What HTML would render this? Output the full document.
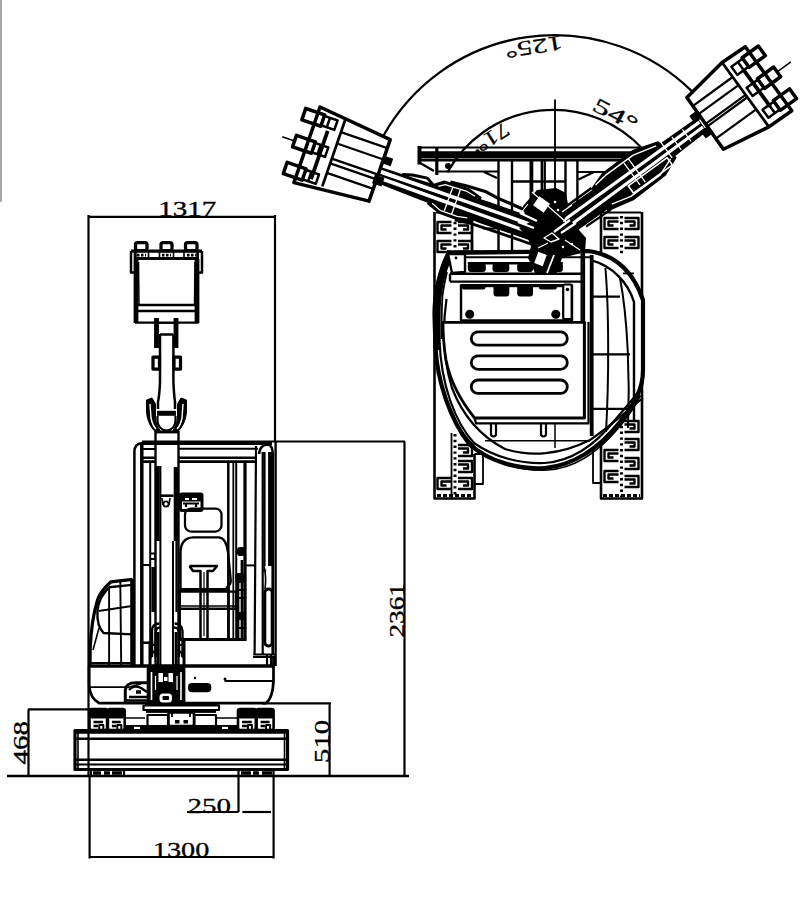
<!DOCTYPE html>
<html><head><meta charset="utf-8">
<style>
html,body{margin:0;padding:0;background:#fff;width:808px;height:898px;overflow:hidden;}
svg{display:block;}
text{font-family:"Liberation Serif",serif;fill:#000;}
</style></head>
<body>
<svg width="808" height="898" viewBox="0 0 808 898">
<rect x="0" y="0" width="808" height="898" fill="#fff"/>
<rect x="-1" y="-2" width="3" height="204" rx="1" fill="#a8a8a8"/>
<g id="dims" stroke="#000" stroke-width="2.2" fill="none">
  <line x1="88" y1="216.8" x2="274.5" y2="216.8"/>
  <line x1="88.5" y1="215" x2="88.5" y2="776"/>
  <line x1="275" y1="215" x2="275" y2="442"/>
  <line x1="272" y1="441.5" x2="405" y2="441.5"/>
  <line x1="404.5" y1="441.5" x2="404.5" y2="776"/>
  <line x1="7" y1="776" x2="409" y2="776" stroke-width="2.4"/>
  <line x1="28" y1="709.4" x2="90" y2="709.4"/>
  <line x1="28.5" y1="709.4" x2="28.5" y2="776"/>
  <line x1="262" y1="703.3" x2="331" y2="703.3"/>
  <line x1="329.6" y1="703.3" x2="329.6" y2="776"/>
  <line x1="89.6" y1="776" x2="89.6" y2="858.5"/>
  <line x1="273.6" y1="776" x2="273.6" y2="858.5"/>
  <line x1="89.6" y1="857" x2="273.6" y2="857"/>
  <line x1="238.5" y1="776" x2="238.5" y2="812"/>
  <line x1="187" y1="812" x2="238.5" y2="812"/>
  <line x1="242.4" y1="812" x2="271" y2="812"/>
</g>
<g id="texts" stroke="#000" stroke-width="0.3">
  <text x="158.2" y="216.3" font-size="20.5" textLength="58" lengthAdjust="spacingAndGlyphs">1317</text>
  <text x="152.8" y="857.2" font-size="20.5" textLength="56.5" lengthAdjust="spacingAndGlyphs">1300</text>
  <text x="187.6" y="812.6" font-size="20.5" textLength="43.4" lengthAdjust="spacingAndGlyphs">250</text>
  <text transform="translate(27.6,764.5) rotate(-90)" font-size="20.5" textLength="43.5" lengthAdjust="spacingAndGlyphs">468</text>
  <text transform="translate(328.6,763) rotate(-90)" font-size="20.5" textLength="43.3" lengthAdjust="spacingAndGlyphs">510</text>
  <text transform="translate(404,637.5) rotate(-90)" font-size="20.5" textLength="54.5" lengthAdjust="spacingAndGlyphs">2361</text>
</g>
<g id="front" stroke="#000" fill="none" stroke-width="2.00" stroke-linejoin="round">
  <!-- bucket teeth -->
  <rect x="135.5" y="242.5" width="11.5" height="8" rx="2" stroke-width="3.25"/>
  <rect x="161" y="242.5" width="11" height="8" rx="2" stroke-width="3.25"/>
  <rect x="185.5" y="242.5" width="11.5" height="8" rx="2" stroke-width="3.25"/>
  <!-- top bar -->
  <path d="M131,251 H202" stroke-width="3.25"/>
  <path d="M136,258.5 H197" stroke-width="3.00"/>
  <rect x="134.5" y="251" width="14" height="7.5" stroke-width="1.62"/>
  <rect x="159.5" y="251" width="14" height="7.5" stroke-width="1.62"/>
  <rect x="184" y="251" width="14" height="7.5" stroke-width="1.62"/>
  <path d="M137,255 h9 M162,255 h9 M187,255 h9" stroke-width="2.75" stroke-dasharray="2.5,1.5"/>
  <!-- side ears -->
  <path d="M131,251 V272.5 H135.5 V251" stroke-width="2.50"/>
  <path d="M202,251 V272.5 H197.5 V251" stroke-width="2.50"/>
  <!-- bucket body -->
  <path d="M136,259 V323" stroke-width="4.8"/>
  <path d="M197,259 V323" stroke-width="4.8"/>
  <path d="M138.5,262 L139,304" stroke-width="1.50"/>
  <path d="M195,262 L194.5,304" stroke-width="1.50"/>
  <path d="M137,305 H196" stroke-width="2.50"/>
  <path d="M137,311 H196" stroke-width="2.50"/>
  <path d="M135,322.5 H198.5" stroke-width="2.25"/>
  <!-- arm -->
  <path d="M156.5,318 V348" stroke-width="4.86"/>
  <path d="M176,318 V348" stroke-width="4.86"/>
  <path d="M159,323 H174" stroke-width="1.75"/>
  <path d="M160,334.5 H173" stroke-width="2.50"/>
  <path d="M160,334 V382 Q159.5,395 158,402 V409" stroke-width="2.50"/>
  <path d="M173.4,334 V382 Q174,395 175,402 V409" stroke-width="2.50"/>
  <rect x="153" y="357" width="6.5" height="12" stroke-width="3.25"/>
  <rect x="174" y="357" width="6.5" height="12" stroke-width="3.25"/>
  <!-- fork -->
  <path d="M146.5,400 L152,398 L155.5,404 L155.5,417 C156,424 158,428 161,431.5 L155,431.5 C149.5,426 146.5,418 146.5,410 Z" fill="#000" stroke-width="1"/>
  <path d="M186.5,400 L181,398 L177.5,404 L177.5,417 C177,424 175,428 172,431.5 L178,431.5 C183.5,426 186.5,418 186.5,410 Z" fill="#000" stroke-width="1"/>
  <path d="M150,404 L151,418 C152,423 154,427 156,429 M183,404 L182,418 C181,423 179,427 177,429" stroke="#fff" stroke-width="1.4"/>
  <path d="M157,413.3 H176" stroke-width="5"/>
  <path d="M157.5,416 V421 C158,427 161,430 166.5,430.5 C172,430 175,427 175.5,421 V416" stroke-width="2.2"/>
  <!-- boom -->
  <path d="M155.5,431 V666" stroke-width="2.4"/>
  <path d="M178.5,431 V666" stroke-width="2.4"/>
  <path d="M155.5,432 H178.5" stroke-width="2.8"/>
  <path d="M157.4,466 V541" stroke-width="4.6"/>
  <path d="M175.8,467 V541" stroke-width="4.2"/>
  <path d="M160.4,466 V666 M173,541 V666" stroke-width="2"/>
  <path d="M160,495.7 H173.5" stroke-width="2.6"/>
  <path d="M162,498 L163,505 M170,498 L169,505" stroke-width="1.6"/>
  <circle cx="166" cy="504" r="2.6" fill="none" stroke-width="1.8"/>
  <path d="M150.3,553.5 H155 V559 H150.3 M142.4,565 H150" stroke-width="1.8"/>
  <path d="M153.7,567 V612" stroke-width="4.6"/>
  <path d="M176.5,541 V612" stroke-width="2.2"/>
  <!-- hose loops -->
  <path d="M152,657 V631 C152,626 155,623.5 159.5,623.5 M155.6,657 V633 C155.6,629 157,627.5 160,627.5" stroke-width="2.4"/>
  <path d="M182.5,657 V631 C182.5,626 179,623.5 174.5,623.5 M179,657 V633 C179,629 177.5,627.5 174,627.5" stroke-width="2.4"/>
  <path d="M152,645 h3.5 M179,645 h3.5" stroke-width="2.2"/>
  <path d="M158,632 V666 M176,632 V666" stroke-width="2.8"/>
  <!-- cab roof -->
  <path d="M142,442.8 H272" stroke-width="4.50"/>
  <path d="M134.4,666 V452 Q134.4,443 143,443" stroke-width="2.50"/>
  <path d="M141.8,444 V666" stroke-width="3.50"/>
  <path d="M150.2,462 V666" stroke-width="2.00"/>
  <path d="M142,449 H155 M179,448.8 H258" stroke-width="1.88"/>
  <path d="M142,457.7 H155 M179,457.7 H257" stroke-width="2.50"/>
  <path d="M142,461.6 H155 M179,461.6 H256" stroke-width="2.75"/>
  <!-- right post -->
  <path d="M256,446 L254.6,654.5" stroke-width="2.2"/>
  <path d="M259,454 Q260,444.5 268,444.5 Q273.5,445.5 272.7,458 V654" stroke-width="2.6"/>
  <path d="M262.7,452 V654" stroke-width="2.2"/>
  <path d="M270.2,452 V566" stroke-width="4.2"/><path d="M264.5,452 V566" stroke-width="2.2"/>
  <rect x="264.8" y="589" width="7.4" height="57" rx="3.5" stroke-width="3"/>
  <path d="M264,566 C266,575 266,582 265,589" stroke-width="1.6"/>
  <circle cx="264.5" cy="570.5" r="1.6" fill="#000" stroke="none"/>
  <path d="M275.6,442 V666" stroke-width="2.4"/>
  <path d="M253.3,654.5 H275.6 M267,654.5 V666 M271,654.5 V666" stroke-width="2.2"/>
  <path d="M246,565.4 H256" stroke-width="2"/>
  <!-- vertical posts -->
  <path d="M228.3,462 V640" stroke-width="2.50"/>
  <path d="M233.3,462 V640" stroke-width="1.75"/>
  <path d="M236.2,462 V640" stroke-width="2.00"/>
  <path d="M245,462 V641" stroke-width="3.25"/>
  <!-- monitor -->
  <rect x="180.5" y="494" width="21.5" height="16.5" rx="1.5" stroke-width="3.00"/>
  <rect x="181" y="494.5" width="20.5" height="7" fill="#000" stroke="none"/>
  <path d="M185,499 h4 M192,499 h5" stroke="#fff" stroke-width="1.8"/>
  <path d="M183,503.5 h16 M186,503.5 V507 M196,503.5 V507" stroke-width="2.2"/>
  <!-- headrest -->
  <rect x="185" y="508.5" width="36.5" height="23" rx="6" stroke-width="2.25"/>
  <!-- seat back -->
  <path d="M180.5,590 V552 Q181,538 193,537.4 H219 Q226,538 228,552 L230.7,580 Q231,585 226,588" stroke-width="2.4"/>
  <!-- joystick -->
  <path d="M189.5,566 H217 L213,571 H207.5 V638 M189.5,566 L193,571 H200.5 V638" stroke-width="2.5"/>
  <path d="M204,572 V636" stroke-width="1.2"/>
  <!-- seat bars -->
  <path d="M180.5,589.8 H230" stroke-width="3.4"/>
  <path d="M181,591.6 H236 V610 M181,608.8 H236" stroke-width="2.4"/>
  <path d="M181,606 H236" stroke-width="1.6"/>
  <path d="M180,639.5 H246" stroke-width="3"/>
  <path d="M180,590 V641" stroke-width="2"/>
  <path d="M229,585 V641" stroke-width="1.6"/>
  <path d="M238,580 V641 M242,560 V641" stroke-width="2.75"/>
  <g fill="#000" stroke="none">
    <rect x="237" y="547" width="8" height="9" rx="3"/>
    <rect x="235.5" y="573" width="9" height="10" rx="2"/>
    <rect x="237" y="612" width="8" height="8" rx="2"/>
  </g>
  <path d="M236,590 h9 M236,598 h9 M236,628 h9" stroke-width="2"/>
  <!-- hood -->
  <path d="M132.5,579.3 L111,581.8 C104,588 99.5,594 97.5,600 C93.5,613 91,630 90.2,648 L90,666" stroke-width="3.2"/>
  <path d="M132,584.9 L109,587.3 C103,593 98.5,600 97.4,611 C97,620 98.5,628 103.6,633 L132,634.4" stroke-width="2.4"/>
  <path d="M109.1,587 V665 M120.3,582 L121.2,665" stroke-width="1.9"/>
  <path d="M98.6,611 L132,606" stroke-width="2"/>
  <path d="M106,592 L97.5,600 M99,628 L93,650" stroke-width="1.6"/>
  <path d="M132.3,579 V666" stroke-width="4.2"/>
  <path d="M89.5,663 H134" stroke-width="2"/>
  <!-- lower body -->
  <path d="M89,666 H274" stroke-width="3.50"/>
  <path d="M89.2,666 V686 Q90,698 99,703 H266 Q273,698 273.5,680 V657" stroke-width="2.75"/>
  <path d="M89,687 H129 L141,684" stroke-width="1.75"/>
  <path d="M224.5,681 H272.5" stroke-width="2.00"/>
  <circle cx="225" cy="679" r="1.5" fill="#000" stroke="none"/>
  <circle cx="195" cy="678" r="1.2" fill="#000" stroke="none"/>
  <rect x="188" y="683" width="23.3" height="9.3" rx="4" fill="#000" stroke="none"/>
  <path d="M253,657 H275" stroke-width="2.00"/>
  <path d="M150,641 V668 M184,641 V668" stroke-width="3.00"/>
  <path d="M151,658 Q152,650 158,650 M183,658 Q182,650 176,650" stroke-width="2.00"/>
  <!-- boom base -->
  <rect x="146.7" y="667" width="38.7" height="38.5" fill="#000" stroke="none"/>
  <path d="M151.5,672 V700 M181,672 V700" stroke="#fff" stroke-width="1.6"/>
  <path d="M155.5,676 V690 M177,676 V690" stroke="#fff" stroke-width="1.2"/>
  <rect x="158.5" y="673" width="4.5" height="9" fill="#fff" stroke="none"/>
  <rect x="168.5" y="673" width="4.5" height="9" fill="#fff" stroke="none"/>
  <rect x="164" y="677" width="3.5" height="4" fill="#fff" stroke="none"/>
  <rect x="159.5" y="693.5" width="12.5" height="9" rx="3.5" fill="#fff" stroke="none"/>
  <rect x="162.5" y="696" width="6.5" height="4" rx="1" fill="#000" stroke="none"/>
  <rect x="148.5" y="700" width="35" height="3" fill="#fff" stroke="none" opacity="0.0"/>
  <path d="M125.3,704 V690 C126,684 130,682.8 136,682.8 H147" stroke-width="3"/>
  <path d="M129,690 C132,686 137,686 141,688 L147,692 M129,697 H147 M125.5,700.5 H147" stroke-width="2.4"/>
  <path d="M136,692 h5" stroke-width="3.5"/>
  <path d="M142.7,642.7 H153.4 M182.7,639.3 H246" stroke-width="2.4"/>
  <!-- swivel / undercarriage center -->
  <path d="M145,705.5 H219" stroke-width="2.8"/>
  <rect x="143.5" y="705.5" width="75.5" height="4.5" fill="#fff" stroke-width="2.2"/>
  <rect x="146" y="709.7" width="70" height="3.2" fill="#000" stroke="none"/>
  <rect x="147.5" y="715" width="20.5" height="11" stroke-width="2.2"/>
  <rect x="194.3" y="715" width="21.7" height="11" stroke-width="2.2"/>
  <rect x="168.5" y="712.5" width="25.5" height="13.5" rx="2" fill="#fff" stroke-width="2.6"/>
  <path d="M172,713 V717 M190,713 V717" stroke-width="1.8"/>
  <rect x="175" y="720" width="4.5" height="3.5" fill="#000" stroke="none"/>
  <rect x="183.5" y="720" width="4.5" height="3.5" fill="#000" stroke="none"/>
  <rect x="124" y="725" width="114" height="5.5" fill="#000" stroke="none"/>
  <rect x="134" y="726.8" width="6" height="2.5" fill="#fff" stroke="none"/>
  <rect x="222" y="726.8" width="6" height="2.5" fill="#fff" stroke="none"/>
  <path d="M124,718 H145 M217,718 H238" stroke-width="1.6"/>
  <!-- tracks top -->
  <rect x="89.5" y="709" width="17.6" height="21" rx="2" stroke-width="2.6"/>
  <rect x="89.5" y="709" width="17.6" height="9.5" rx="2.5" fill="#000" stroke="none"/>
  <path d="M93.5,722 h9.6 M93.5,726 h4.8" stroke-width="2.4"/>
  <path d="M99.3,729 V725 h4 V729" stroke-width="2"/>
  <rect x="107.89999999999999" y="709" width="16.8" height="21" rx="2" stroke-width="2.6"/>
  <rect x="107.89999999999999" y="709" width="16.8" height="9.5" rx="2.5" fill="#000" stroke="none"/>
  <path d="M111.9,722 h8.8 M111.9,726 h4.4" stroke-width="2.4"/>
  <path d="M117.3,729 V725 h4 V729" stroke-width="2"/>
  <rect x="238" y="709" width="17.8" height="21" rx="2" stroke-width="2.6"/>
  <rect x="238" y="709" width="17.8" height="9.5" rx="2.5" fill="#000" stroke="none"/>
  <path d="M242.0,722 h9.8 M242.0,726 h4.9" stroke-width="2.4"/>
  <path d="M247.9,729 V725 h4 V729" stroke-width="2"/>
  <rect x="256.6" y="709" width="17.0" height="21" rx="2" stroke-width="2.6"/>
  <rect x="256.6" y="709" width="17.0" height="9.5" rx="2.5" fill="#000" stroke="none"/>
  <path d="M260.6,722 h9.0 M260.6,726 h4.5" stroke-width="2.4"/>
  <path d="M266.1,729 V725 h4 V729" stroke-width="2"/>
  <!-- blade -->
  <path d="M75,730.5 H287.5 V769.5 H75 Z" stroke-width="3.2"/>
  <path d="M75,732.5 H287" stroke-width="2.4"/>
  <path d="M76,738.8 H286" stroke-width="2.4"/>
  <path d="M76,759.8 H286" stroke-width="2.6"/>
  <path d="M76,764.5 H286" stroke-width="1.8"/>
  <path d="M78,731 V768 M284.5,731 V768" stroke-width="1.6"/>
  <!-- below blade -->
  <path d="M91,770 V776 M124,770 V776 M238.5,770 V776 M273.5,770 V776" stroke-width="2.2"/>
  <path d="M93,773 h8 M104,773 h6 M112,773 h10 M241,773 h10 M253,773 h6 M262,773 h10" stroke-width="3.4"/>
</g>
<g id="top" stroke="#000" fill="none" stroke-width="2.00" stroke-linejoin="round">
  <!-- arcs -->
  <path d="M383.7,135.3 A196,196 0 0 1 691.8,91.1" stroke-width="2.25"/>
  <path d="M447.5,172.2 A121.2,121.2 0 0 1 643,149.3" stroke-width="2.25"/>
  <path d="M555,99.5 V340" stroke-width="1.88"/>
  <!-- tracks -->
  <g id="trackL">
    <path d="M434.5,212 V498.5 H474.5 V454 M472,212 V256" stroke-width="2.6"/>
    <path d="M436,212.5 H472" stroke-width="2"/>
    <path d="M451.5,433 V498" stroke-width="1.8"/>
    <path d="M474.5,454 H483 V484 H474.5" stroke-width="1.8"/>
    <path d="M455,216 V256 M455,434 V497" stroke-width="3" stroke-dasharray="2.4,3.4"/>
    <path d="M437,495.5 H472" stroke-width="3" stroke-dasharray="4,2"/>
  </g>
  <g id="trackR">
    <path d="M642,212 V498.5 H601 V440 M601,212 V256" stroke-width="2.6"/>
    <path d="M602,212.5 H641" stroke-width="2"/>
    <path d="M593,440 V483 H601" stroke-width="1.8"/>
    <path d="M621.5,216 V256 M621.5,420 V497" stroke-width="3" stroke-dasharray="2.4,3.4"/>
    <path d="M603,495.5 H640" stroke-width="3" stroke-dasharray="4,2"/>
  </g>
  <g stroke-width="2.4">
    <path d="M451.5,222 H437.5 V233 H451.5 M451.5,225.5 H441.5 V229.5 H446.5"/>
    <path d="M458,222 H472 V233 H458 M458,225.5 H468 V229.5 H463"/>
    <path d="M451.5,241 H437.5 V252 H451.5 M451.5,244.5 H441.5 V248.5 H446.5"/>
    <path d="M458,241 H472 V252 H458 M458,244.5 H468 V248.5 H463"/>
    <path d="M458,445 H472 V456 H458 M458,448.5 H468 V452.5 H463"/>
    <path d="M458,461 H472 V472 H458 M458,464.5 H468 V468.5 H463"/>
    <path d="M451.5,478 H437.5 V489 H451.5 M451.5,481.5 H441.5 V485.5 H446.5"/>
    <path d="M458,478 H472 V489 H458 M458,481.5 H468 V485.5 H463"/>
    <path d="M618.5,218 H604.5 V229 H618.5 M618.5,221.5 H608.5 V225.5 H613.5"/>
    <path d="M624.5,218 H638.5 V229 H624.5 M624.5,221.5 H634.5 V225.5 H629.5"/>
    <path d="M618.5,237 H604.5 V248 H618.5 M618.5,240.5 H608.5 V244.5 H613.5"/>
    <path d="M624.5,237 H638.5 V248 H624.5 M624.5,240.5 H634.5 V244.5 H629.5"/>
    <path d="M618.5,450 H604.5 V461 H618.5 M618.5,453.5 H608.5 V457.5 H613.5"/>
    <path d="M618.5,471 H604.5 V482 H618.5 M618.5,474.5 H608.5 V478.5 H613.5"/>
    <path d="M624.5,421 H638.5 V432 H624.5 M624.5,424.5 H634.5 V428.5 H629.5"/>
    <path d="M624.5,439 H638.5 V450 H624.5 M624.5,442.5 H634.5 V446.5 H629.5"/>
    <path d="M624.5,458 H638.5 V469 H624.5 M624.5,461.5 H634.5 V465.5 H629.5"/>
    <path d="M624.5,476 H638.5 V487 H624.5 M624.5,479.5 H634.5 V483.5 H629.5"/>
  </g>
  <!-- blade top -->
  <path d="M419.5,146 V164.5" stroke-width="4"/>
  <path d="M420,147.5 H640" stroke-width="2.2"/>
  <path d="M420,154.9 H640" stroke-width="7.2"/>
  <path d="M420,160.3 H640" stroke-width="2.6"/>
  <circle cx="477.6" cy="151.5" r="2.2" fill="#000" stroke="none"/>
  <!-- frame below blade -->
  <path d="M436.8,147 V175" stroke-width="3.2"/>
  <path d="M421,163.5 L434,171 M436,171.5 H498 M484,172 L497,178" stroke-width="2.2"/>
  <path d="M498.5,161 V250 M512,161 V250 M541.8,161 V205 M544.7,161 V205 M565.5,161 V232 M577.4,161 V250" stroke-width="2.4"/>
  <path d="M483,228.5 H524 M472,256 H484" stroke-width="2"/>
  <path d="M531.4,161 V215" stroke-width="3.8"/>
  <path d="M512,181.5 H565.5" stroke-width="2.4"/>
  <path d="M577.4,172 H640 M578.5,179.5 L594,172" stroke-width="2.2"/>
  <circle cx="448" cy="166" r="3" fill="#000" stroke="none"/>
  <!-- upper structure outline -->
  <path d="M449,253 C440,270 434.5,292 434.5,315 L435.5,347 C437,380 450,420 470,445 C490,462 520,470 545,468 C575,465 600,447 620,422 C634,404 643,390 643,370 L643,300 C632,268 612,254 588,251 Z" fill="#fff" stroke-width="4.2"/>
  <path d="M452,256 C444,272 439.5,293 439.5,315 L439.5,340 C441,385 455,422 474,443 C495,458 522,464 545,463 C572,461 596,444 615,420 C630,402 640,392 643,382" stroke-width="2.2"/>
  <path d="M437,300 C436,330 436,360 440,380 C446,410 460,432 476,448 C500,466 525,471 548,470 C575,468 598,452 616,430" stroke-width="1.6"/>
  <path d="M600,446 C615,432 628,418 640,395" stroke-width="3"/>
  <path d="M446.5,299 C442,330 444,362 452,388 C462,414 480,436 505,449 C530,457 560,455 590,440 C612,425 630,408 643,398" stroke-width="2.2"/>
  <path d="M449,254 C441,270 436.5,292 436.5,318 L437,350" stroke-width="6"/>
  <path d="M447,272 C444,285 442.5,295 442.3,298.3 C441.5,315 441.5,328 441.5,339" stroke-width="1.8"/>
  <!-- body internals -->
  <path d="M447,251.5 H592" stroke-width="2.6"/>
  <path d="M449,257.3 H590" stroke-width="2"/>
  <path d="M450,273.7 H582.6 M450,281.6 H582.6 M450,273.7 V281.6" stroke-width="2.4"/>
  <path d="M448,254 L465,254 V272 L452,273 Z" fill="#fff" stroke-width="2.4"/>
  <circle cx="456" cy="258" r="1.4" fill="#000" stroke="none"/>
  <path d="M461,284.5 V320.5 H572 V284.5" stroke-width="2.4"/>
  <rect x="563.2" y="284.5" width="8.6" height="34.7" rx="1.5" stroke-width="2.2"/>
  <circle cx="567.5" cy="289.5" r="1.8" fill="#000" stroke="none"/>
  <path d="M581.7,250 V322" stroke-width="2.4"/>
  <!-- dark blobs -->
  <g fill="#000" stroke="none">
    <rect x="467.8" y="262" width="95" height="2.5"/>
    <rect x="467.8" y="263" width="18" height="9" rx="3"/>
    <rect x="492.5" y="263" width="16.8" height="9" rx="3"/>
    <rect x="517.2" y="263" width="15.8" height="9" rx="3"/>
    <rect x="552.9" y="263" width="10" height="9" rx="3"/>
    <rect x="460.5" y="284" width="103" height="3.2"/>
    <rect x="461.8" y="284.6" width="23.7" height="5" rx="2"/>
    <rect x="493.5" y="284.6" width="15.8" height="12" rx="3"/>
    <rect x="517.2" y="284.6" width="15.8" height="12" rx="3"/>
    <rect x="539" y="284.6" width="17.8" height="5" rx="2"/>
    <circle cx="469.7" cy="314.3" r="4.5"/>
    <circle cx="555.8" cy="314.3" r="4.5"/>
  </g>
  <!-- engine cover panel -->
  <path d="M443,322.3 H584.5 V418 H474.6 C460,400 450,380 446,360 C443.5,345 443,335 443,322.3 Z" fill="#fff" stroke-width="2.8"/>
  <path d="M474.6,418 L476,423.4 H588.5 V322" stroke-width="2.2"/>
  <path d="M485,440.7 H590" stroke-width="1.6"/>
  <rect x="471.3" y="331.8" width="96" height="13.4" rx="6.7" stroke-width="2.8"/>
  <rect x="471.3" y="355.9" width="96" height="13.4" rx="6.7" stroke-width="2.8"/>
  <rect x="471.3" y="380" width="96" height="13.4" rx="6.7" stroke-width="2.8"/>
  <path d="M491,424 V435 Q493.5,438 496,435 V424 M541,424 V435 Q543.5,438 546,435 V424" stroke-width="2.2"/>
  <path d="M555,423 V448" stroke-width="1.5"/>
  <!-- cab -->
  <path d="M591.7,255 V436" stroke-width="3.8"/>
  <path d="M584,250 V418" stroke-width="2.2"/>
  <path d="M591.7,260.4 C612,266 628,282 634,302 V420" stroke-width="2.4"/>
  <path d="M605.4,268 C609,310 609,380 606,432" stroke-width="2"/>
  <path d="M620,278 C628,320 630,380 628,428" stroke-width="2"/>
  <path d="M593,296.6 H620 M593,354.4 H630 M593,408.8 H628" stroke-width="2.2"/>
  <path d="M623,273.4 H634" stroke-width="1.8"/>
  <!-- left arm (local frame) -->
  <g transform="matrix(-0.941,-0.338,-0.338,0.941,550,236)">
    <path d="M-5,-11 L70,-11 L150,-8 L182,-7 L182,8 L150,9 L70,11 L-5,10 Z" fill="#000" stroke="#000" stroke-width="1.25"/>
    <path d="M78,-13 L92,-17 L118,-16 L126,-10 L126,11 L112,16 L88,16 L78,12 Z" fill="#000" stroke="#000" stroke-width="1.25"/>
    <path d="M8,-4.5 L182,-3.5" stroke="#fff" stroke-width="3.4"/>
    <path d="M8,3.5 L182,3.2" stroke="#fff" stroke-width="3.4"/>
    <path d="M100,-3.5 L182,-2.2 M100,2.5 L182,2.2" stroke="#fff" stroke-width="2.2"/>
    <path d="M84,-12 L94,-14 L116,-13 L122,-9 M84,11 L94,13 L112,13 L122,9" stroke="#fff" stroke-width="1.3"/>
    <path d="M100,-14 V13 M108,-13 V12" stroke="#fff" stroke-width="1.3"/>
    <path d="M20,-15 L33,-16 L62,-18 L75,-20 L95,-19 L112,-17" stroke-width="3.2"/>
    <path d="M10,14 L60,14.5 L80,15 L95,17" stroke-width="2.8"/>
    <path d="M126,-8 L135,-13 L150,-11 L160,-8" stroke-width="3"/>
  </g>
  <!-- right arm (local frame) -->
  <g transform="matrix(0.809,-0.588,0.588,0.809,553,232)">
    <path d="M-5,-11 L60,-10 L150,-7.5 L183,-7 L183,8.5 L150,9.5 L60,13 L-5,12 Z" fill="#000" stroke="#000" stroke-width="1.5"/>
    <path d="M57,-12 L74,-18 L112,-19 L138,-11 L143,12 L124,20 L84,21 L57,15 Z" fill="#000" stroke="#000" stroke-width="1.5"/>
    <path d="M5,-3.2 L183,-2.8" stroke="#fff" stroke-width="3.2"/>
    <path d="M10,4.8 L183,3.2" stroke="#fff" stroke-width="3.2"/>
    <rect x="88" y="7" width="48" height="9" fill="none" stroke="#fff" stroke-width="1.6"/>
    <path d="M62,-13 L76,-15 L110,-15 L134,-9 M64,12 L84,17 L120,17 L138,10" stroke="#fff" stroke-width="1.4"/>
    <path d="M104,-15 V14 M98,-14 V13 M140,-9 V10" stroke="#fff" stroke-width="1.3"/>
    <path d="M152,-7 V9 M165,-7 V8" stroke="#fff" stroke-width="1.2"/>
    <path d="M20,-13 L57,-13" stroke-width="2.6"/>
    <path d="M30,15 L60,16" stroke-width="2.2"/>
  </g>
  <!-- center cluster -->
  <path d="M523,206 L537,190 L556,188 L566,193 L569,210 L562,224 L540,228 L526,220 Z" fill="#000" stroke="none"/>
  <path d="M526,234 L548,226 L572,222 L586,238 L585,252 L562,258 L556,275 L536,275 L528,258 L531,246 Z" fill="#000" stroke="none"/>
  <path d="M519,228 L530,222 L560,220 L570,226 L560,236 L530,240 Z" fill="#000" stroke="none"/>
  <g stroke="#fff" fill="none">
    <path d="M547,273 L554,255" stroke-width="1.8"/>
    <path d="M544,238 L552,233 L559,239 L551,242 Z" stroke-width="1.4"/>
    <path d="M562,212 L572,205" stroke-width="1.4"/>
    <path d="M520,213 L537,221 M518,222 L534,228" stroke-width="2.2"/>
    <path d="M570,220 L554,232 M576,223 L561,233" stroke-width="2.2"/>
    <path d="M532,192 L566,222 M528,204 L520,214" stroke-width="1.2"/>
    <path d="M538,248 L548,243 M565,240 L580,250" stroke-width="1.2"/>
  </g>
  <rect x="535" y="199" width="13" height="11" transform="rotate(35 541.5 204.5)" fill="#fff" stroke="none"/>
  <rect x="536" y="253" width="9" height="12" transform="rotate(20 540.5 259)" fill="#fff" stroke="none"/>
  <circle cx="558" cy="210" r="1.3" fill="#fff" stroke="none"/>
  <circle cx="555" cy="202" r="1.3" fill="#fff" stroke="none"/>
  <circle cx="563" cy="247" r="1.2" fill="#fff" stroke="none"/>
  <circle cx="572" cy="244" r="1.2" fill="#fff" stroke="none"/>
  <!-- left bucket (local frame) -->
  <g transform="matrix(-0.946,-0.326,-0.326,0.946,346.5,116.1)">
    <path d="M-49,8 L28,0 L28,80 L-49,73 Z" fill="#fff" stroke-width="3.50"/>
    <path d="M0,2.6 V74.3" stroke-width="2.75"/>
    <path d="M13,20 V71" stroke-width="3.75"/>
    <path d="M-49,17 H0 M-49,29 H0 M-49,45 H0 M-49,50 H0 M-49,60 H0" stroke-width="2.25"/>
    <g stroke-width="3.50">
      <rect x="21" y="6" width="20" height="12"/>
      <rect x="21" y="34.5" width="20" height="12"/>
      <rect x="21" y="63" width="20" height="12"/>
    </g>
    <g stroke-width="2.50">
      <rect x="7" y="7" width="14" height="10"/>
      <rect x="7" y="35.5" width="14" height="10"/>
      <rect x="7" y="64" width="14" height="10"/>
      <path d="M15,7 V17 M15,35.5 V45.5 M15,64 V74"/>
    </g>
    <path d="M41,40.5 H54" stroke-width="1.62"/>
    <rect x="-58" y="25" width="10" height="8" fill="#000" stroke="none"/>
    <rect x="-56" y="46" width="10" height="9" fill="#000" stroke="none"/>
  </g>
  <!-- right bucket (local frame) -->
  <g transform="matrix(0.809,-0.588,0.588,0.809,725.6,67.3)">
    <path d="M-49,1.6 L0,-6 L28,-5 L28,74 L0,73.6 L-50,65 Z" fill="#fff" stroke-width="3.50"/>
    <path d="M0,-5 V73" stroke-width="2.75"/>
    <path d="M13,12 V58" stroke-width="3.75"/>
    <path d="M-49,12 H0 M-49,22 H0 M-49,34 H0 M-49,37 H0 M-49,52 H0" stroke-width="2.25"/>
    <g stroke-width="3.50">
      <rect x="19" y="2" width="20" height="12"/>
      <rect x="19" y="28" width="20" height="12"/>
      <rect x="19" y="55" width="20" height="12"/>
    </g>
    <g stroke-width="2.50">
      <rect x="5" y="3" width="14" height="10"/>
      <rect x="5" y="29" width="14" height="10"/>
      <rect x="5" y="56" width="14" height="10"/>
      <path d="M13,3 V13 M13,29 V39 M13,56 V66"/>
    </g>
    <path d="M39,34 H56" stroke-width="1.62"/>
    <rect x="-58" y="18" width="10" height="9" fill="#000" stroke="none"/>
    <rect x="-58" y="37" width="10" height="9" fill="#000" stroke="none"/>
  </g>
</g>
<g id="toptexts" stroke="#000" stroke-width="0.3">
  <text transform="translate(561.5,35.5) rotate(171)" font-size="21" textLength="58" lengthAdjust="spacingAndGlyphs">125°</text>
  <text transform="translate(591,109.5) rotate(28)" font-size="21" textLength="48" lengthAdjust="spacingAndGlyphs">54°</text>
  <text transform="translate(504,122) rotate(148)" font-size="21" textLength="36" lengthAdjust="spacingAndGlyphs">71°</text>
</g>

</svg>
</body></html>
